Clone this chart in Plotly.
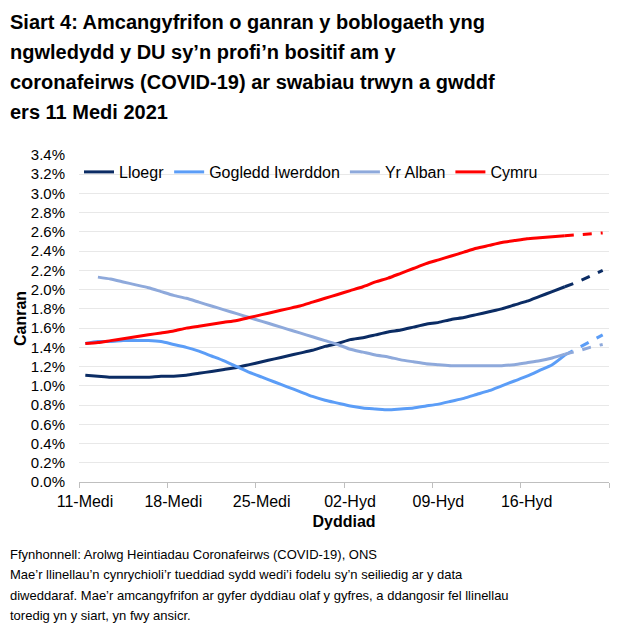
import pandas as pd
import plotly.graph_objects as go

# daily dates, 11 Sep 2021 - 22 Oct 2021
dates = pd.date_range("2021-09-11", "2021-10-22", freq="D")

lloegr = [1.11, 1.10, 1.09, 1.09, 1.09, 1.09, 1.10, 1.10, 1.11, 1.13,
          1.15, 1.17, 1.19, 1.22, 1.25, 1.28, 1.31, 1.34, 1.37, 1.41,
          1.44, 1.48, 1.50, 1.53, 1.56, 1.58, 1.61, 1.64, 1.66, 1.69,
          1.71, 1.74, 1.77, 1.80, 1.84, 1.88, 1.93, 1.98, 2.03, 2.08,
          2.14, 2.20]
gogledd_iwerddon = [1.44, 1.46, 1.46, 1.47, 1.47, 1.47, 1.46, 1.43, 1.40, 1.36,
                    1.31, 1.26, 1.20, 1.14, 1.09, 1.04, 0.99, 0.94, 0.89, 0.85,
                    0.82, 0.79, 0.77, 0.76, 0.75, 0.76, 0.77, 0.79, 0.81, 0.84,
                    0.87, 0.91, 0.95, 1.00, 1.05, 1.10, 1.16, 1.22, 1.32, 1.39,
                    1.46, 1.53]
yr_alban = [None, 2.13, 2.11, 2.08, 2.05, 2.02, 1.98, 1.94, 1.91, 1.87,
            1.83, 1.79, 1.75, 1.71, 1.67, 1.63, 1.59, 1.55, 1.51, 1.47,
            1.43, 1.38, 1.35, 1.32, 1.30, 1.27, 1.25, 1.23, 1.22, 1.21,
            1.21, 1.21, 1.21, 1.21, 1.22, 1.24, 1.26, 1.29, 1.33, 1.36,
            1.40, 1.43]
cymru = [1.44, 1.45, 1.47, 1.49, 1.51, 1.53, 1.55, 1.57, 1.60, 1.62,
         1.64, 1.66, 1.68, 1.71, 1.74, 1.77, 1.80, 1.83, 1.87, 1.91,
         1.95, 1.99, 2.03, 2.08, 2.12, 2.17, 2.22, 2.27, 2.31, 2.35,
         2.39, 2.43, 2.46, 2.49, 2.51, 2.53, 2.54, 2.55, 2.56, 2.57,
         2.58, 2.59]

series_names = ["Lloegr", "Gogledd Iwerddon", "Yr Alban", "Cymru"]
series_values = [lloegr, gogledd_iwerddon, yr_alban, cymru]
colors = ["#0B2C64", "#5B9DF7", "#8EA9DB", "#FF0000"]

# last modelled day drawn solid; later days are dashed (less certain)
solid_end = 38

tick_vals = pd.date_range("2021-09-10 12:00", periods=7, freq="7D")
tick_text = ["11-Medi", "18-Medi", "25-Medi", "02-Hyd", "09-Hyd", "16-Hyd", ""]

title_lines = ["Siart 4: Amcangyfrifon o ganran y boblogaeth yng",
               "ngwledydd y DU sy’n profi’n bositif am y",
               "coronafeirws (COVID-19) ar swabiau trwyn a gwddf",
               "ers 11 Medi 2021"]

footer_lines = ["Ffynhonnell: Arolwg Heintiadau Coronafeirws (COVID-19), ONS",
                "Mae’r llinellau’n cynrychioli’r tueddiad sydd wedi’i fodelu sy’n seiliedig ar y data",
                "diweddaraf. Mae’r amcangyfrifon ar gyfer dyddiau olaf y gyfres, a ddangosir fel llinellau",
                "toredig yn y siart, yn fwy ansicr."]

FONT = "Liberation Sans, Arial, sans-serif"

# plot area in pixels (used to place free text)
PLOT_L, PLOT_R, PLOT_T, PLOT_B = 79, 609, 155, 482


def px_to_paper(xp, yp):
    return ((xp - PLOT_L) / (PLOT_R - PLOT_L),
            (PLOT_B - yp) / (PLOT_B - PLOT_T))


fig = go.Figure()

for name, vals, col in zip(series_names, series_values, colors):
    fig.add_trace(go.Scatter(
        x=dates[:solid_end + 1], y=vals[:solid_end + 1],
        mode="lines", name=name,
        line=dict(color=col, width=3, shape="spline", smoothing=0.6),
        legendgroup=name,
    ))
    fig.add_trace(go.Scatter(
        x=dates[solid_end:], y=vals[solid_end:],
        mode="lines", name=name, showlegend=False,
        line=dict(color=col, width=3, dash="dash"),
        legendgroup=name,
    ))

# title, one annotation per line for Excel-like spacing
for i, line in enumerate(title_lines):
    xp, yp = px_to_paper(8, 22 + 30 * i)
    fig.add_annotation(
        text=f"<b>{line}</b>", xref="paper", yref="paper",
        x=xp, y=yp, xanchor="left", yanchor="middle",
        showarrow=False,
        font=dict(family=FONT, size=20, color="#000000"),
    )

for i, line in enumerate(footer_lines):
    xp, yp = px_to_paper(8, 554 + 20.5 * i)
    fig.add_annotation(
        text=line, xref="paper", yref="paper",
        x=xp, y=yp, xanchor="left", yanchor="middle",
        showarrow=False,
        font=dict(family=FONT, size=13, color="#000000"),
    )

fig.update_layout(
    width=625, height=634,
    margin=dict(l=PLOT_L, r=625 - PLOT_R, t=PLOT_T, b=634 - PLOT_B),
    paper_bgcolor="white", plot_bgcolor="white",
    font=dict(family=FONT, size=15, color="#000000"),
    legend=dict(
        orientation="h", x=0.0, xanchor="left", y=1.0, yanchor="top",
        bgcolor="rgba(0,0,0,0)", font=dict(size=16),
    ),
    xaxis=dict(
        type="date", automargin=False,
        range=["2021-09-10 12:00", "2021-10-22 12:00"],
        tickvals=list(tick_vals), ticktext=tick_text,
        ticklabelshift=6,
        ticks="outside", ticklen=5, tickcolor="#BFBFBF",
        showline=True, linecolor="#BFBFBF", linewidth=1,
        showgrid=False, zeroline=False,
        tickfont=dict(size=16),
        title=dict(text="<b>Dyddiad</b>", font=dict(size=16), standoff=6),
    ),
    yaxis=dict(
        range=[0, 3.4], dtick=0.2, tickformat=".1f", ticksuffix="%",
        automargin=False,
        showgrid=True, gridcolor="#E8E8E8", gridwidth=1,
        zeroline=False, showline=False, ticks="",
        ticklabelstandoff=13,
        tickfont=dict(size=15),
        title=dict(text="<b>Canran</b>", font=dict(size=16), standoff=0),
    ),
)

fig.write_html(
    "out.html",
    config={"displayModeBar": False},
    post_script="document.body.style.margin='0';document.body.style.overflow='hidden';",
)
